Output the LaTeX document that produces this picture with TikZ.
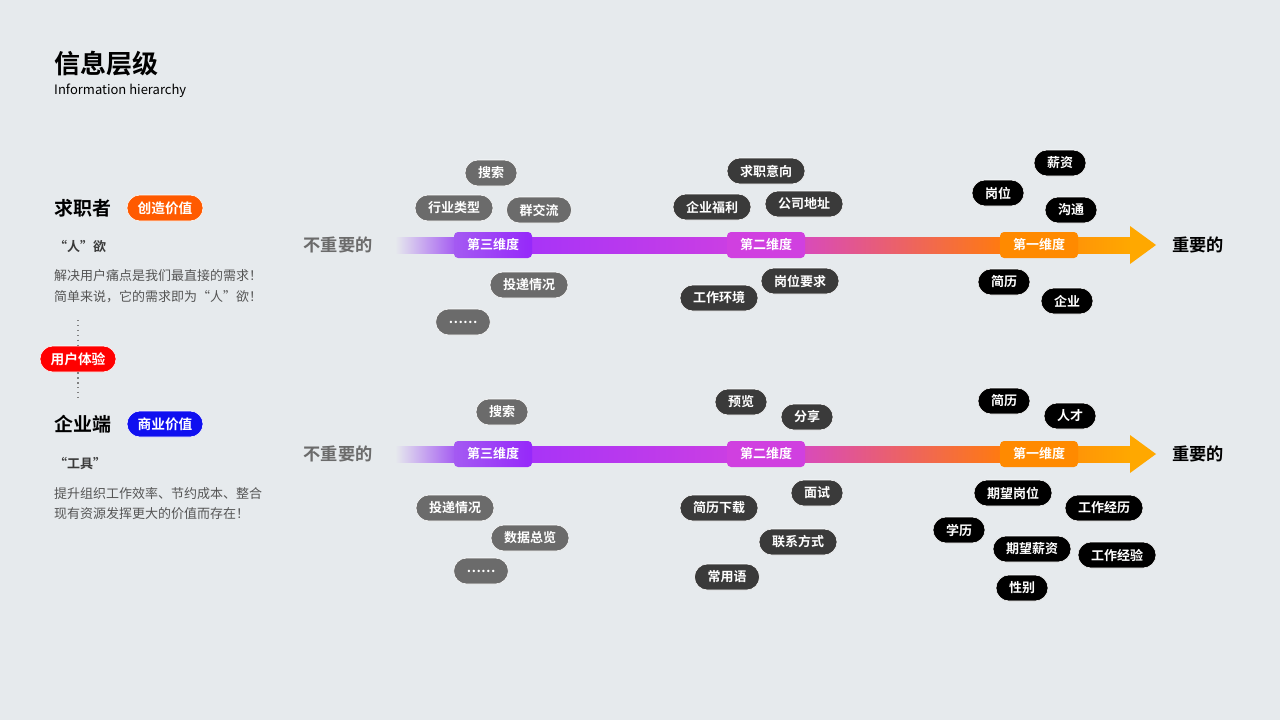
\documentclass[tikz,border=0pt]{standalone}
\usepackage{fontspec}
\setmainfont{Noto Sans CJK SC}
\newfontfamily\cjkbold{Noto Sans CJK SC Bold}
\usetikzlibrary{positioning}
\definecolor{bgGray}{HTML}{E6EAED}
\definecolor{tagGray}{HTML}{6B6B6B}
\definecolor{tagDark}{HTML}{3A3A3A}
\definecolor{txtGray}{HTML}{555555}
\definecolor{dimA}{HTML}{A45AF2}
\definecolor{dimB}{HTML}{D040E0}
\definecolor{dimC}{HTML}{FF8A00}
\definecolor{arrowEnd}{HTML}{FFA800}
\tikzset{
	tag/.style={rounded corners=0.26cm, minimum height=0.52cm, inner xsep=0.26cm, inner ysep=0pt, text=white, draw=white, line width=0.3pt, font=\cjkbold\fontsize{7.4}{8}\selectfont},
	tagGray/.style={tag, fill=tagGray},
	tagDark/.style={tag, fill=tagDark},
	tagBlack/.style={tag, fill=black},
	dim/.style={rounded corners=0.08cm, minimum height=0.52cm, minimum width=1.56cm, inner sep=0pt, text=white, font=\cjkbold\fontsize{7.4}{8}\selectfont},
	pill/.style={rounded corners=0.26cm, minimum height=0.52cm, minimum width=1.52cm, inner sep=0pt, text=white, draw=white, line width=0.3pt, font=\cjkbold\fontsize{7.8}{8}\selectfont},
	endLabel/.style={font=\cjkbold\fontsize{9.8}{10}\selectfont},
	heading/.style={anchor=west, font=\cjkbold\fontsize{10.8}{11}\selectfont},
	body/.style={anchor=west, text=txtGray, font=\fontsize{7.4}{8}\selectfont},
}
\begin{document}
\begin{tikzpicture}[x=0.02cm, y=-0.02cm]
	\fill[bgGray] (0,0) rectangle (1280,720);

	% title
	\node[anchor=west, font=\cjkbold\fontsize{14.8}{15}\selectfont] (title) at (48,64) {信息层级};
	\node[anchor=west, font=\fontsize{7.4}{8}\selectfont] (subtitle) at (48,91) {Information hierarchy};

	% left column
	\node[heading] (seeker) at (48,208) {求职者};
	\node[pill, fill={rgb,255:red,255;green,90;blue,0}] (valueA) at (165,208) {创造价值};
	\node[body, text=tagDark, font=\cjkbold\fontsize{7.4}{8}\selectfont] (wantA) at (48,246) {“人”欲};
	\node[body] (descA1) at (48,276) {解决用户痛点是我们最直接的需求！};
	\node[body] (descA2) at (48,297) {简单来说，它的需求即为“人”欲！};
	\node[pill, fill=red] (ux) at (78,359) {用户体验};
	\coordinate (dotA) at (78,320);
	\coordinate (dotB) at (78,398);
	\draw[gray, dotted, thick] (dotA) -- (ux);
	\draw[gray, dotted, thick] (ux) -- (dotB);
	\node[heading] (company) at (48,424) {企业端};
	\node[pill, fill={rgb,255:red,16;green,16;blue,240}] (valueB) at (165,424) {商业价值};
	\node[body, text=tagDark, font=\cjkbold\fontsize{7.4}{8}\selectfont] (wantB) at (48,463) {“工具”};
	\node[body] (descB1) at (48,494) {提升组织工作效率、节约成本、整合};
	\node[body] (descB2) at (48,514) {现有资源发挥更大的价值而存在！};

	% arrows
	\foreach \row/\y in {top/245, bottom/454} {
		\shade[left color=bgGray, right color=dimA] (395,\y-8) rectangle (456,\y+8);
		\shade[left color={rgb,255:red,155;green,48;blue,255}, right color=dimB] (455,\y-8) rectangle (761,\y+8);
		\shade[left color=dimB, right color={rgb,255:red,255;green,122;blue,16}] (760,\y-8) rectangle (1001,\y+8);
		\shade[left color={rgb,255:red,255;green,122;blue,16}, right color=arrowEnd] (1000,\y-8) rectangle (1131,\y+8);
		\fill[arrowEnd] (1130,\y-19) -- (1156,\y) -- (1130,\y+19) -- cycle;
		\node[endLabel, text=tagGray] (low-\row) at (338,\y) {不重要的};
		\node[endLabel] (high-\row) at (1198,\y) {重要的};
		\node[dim, left color=dimA, right color={rgb,255:red,150;green,40;blue,250}] (third-\row) at (493,\y) {第三维度};
		\node[dim, fill=dimB] (second-\row) at (766,\y) {第二维度};
		\node[dim, fill=dimC] (first-\row) at (1039,\y) {第一维度};
	}

	% tags, seeker
	\foreach \name/\x/\y/\txt in {sA/491/173/搜索, sB/454/208/行业类型, sC/539/210/群交流, sD/529/285/投递情况, sE/463/322/……}
		\node[tagGray] (\name) at (\x,\y) {\txt};
	\foreach \name/\x/\y/\txt in {sF/766/171/求职意向, sG/712/207/企业福利, sH/804/204/公司地址, sI/800/281/岗位要求, sJ/719/298/工作环境}
		\node[tagDark] (\name) at (\x,\y) {\txt};
	\foreach \name/\x/\y/\txt in {sK/1060/163/薪资, sL/998/193/岗位, sM/1071/210/沟通, sN/1004/282/简历, sO/1067/301/企业}
		\node[tagBlack] (\name) at (\x,\y) {\txt};

	% tags, company
	\foreach \name/\x/\y/\txt in {cA/502/412/搜索, cB/455/508/投递情况, cC/530/538/数据总览, cD/481/571/……}
		\node[tagGray] (\name) at (\x,\y) {\txt};
	\foreach \name/\x/\y/\txt in {cE/741/402/预览, cF/807/417/分享, cG/719/508/简历下载, cH/817/493/面试, cI/798/542/联系方式, cJ/727/577/常用语}
		\node[tagDark] (\name) at (\x,\y) {\txt};
	\foreach \name/\x/\y/\txt in {cK/1004/401/简历, cL/1070/416/人才, cM/1013/493/期望岗位, cN/1104/508/工作经历, cO/959/530/学历, cP/1032/549/期望薪资, cQ/1117/555/工作经验, cR/1022/588/性别}
		\node[tagBlack] (\name) at (\x,\y) {\txt};
\end{tikzpicture}
\end{document}
